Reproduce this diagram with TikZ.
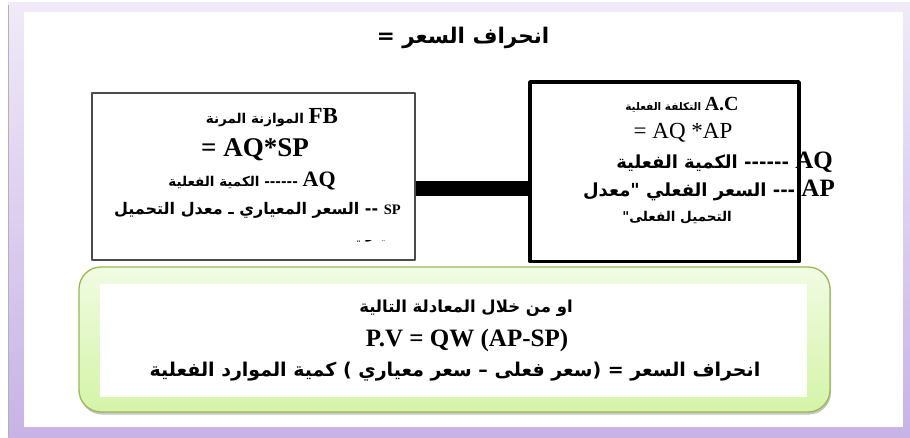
\documentclass[tikz,border=0pt]{standalone}
\usepackage{fontspec}
\setmainfont{Liberation Serif}
\newfontfamily\arabicfont[Script=Arabic]{DejaVu Sans}
\TeXXeTstate=1
\usetikzlibrary{shadows}
\definecolor{lavtop}{HTML}{F0EAF8}
\definecolor{lavbot}{HTML}{C7B3E5}
\definecolor{grntop}{HTML}{F1FBE3}
\definecolor{grnbot}{HTML}{D4F4A8}
\definecolor{grnline}{HTML}{98B954}
\newcommand\lat[2]{{\rmfamily\bfseries\fontsize{#1}{#1}\selectfont #2}}
\newcommand\latr[2]{{\rmfamily\fontsize{#1}{#1}\selectfont #2}}
\tikzset{
    artxt/.style={
        font=\arabicfont\bfseries\fontsize{#1}{#1}\selectfont,
        inner sep=0pt
    },
    lbox/.style={
        draw=black!70, line width=1.5pt, fill=white
    },
    rbox/.style={
        draw=black, line width=3.5pt, fill=white
    },
    bar/.style={
        line width=15pt, black
    }
}

\begin{document}
\begin{tikzpicture}[x=1pt,y=-1pt,line join=round]

    \useasboundingbox (0,0) rectangle (910,437);

% --- frame ---
    \fill[top color=lavtop,bottom color=lavbot] (8,2) rectangle (910,437);
    \draw[black!30,line width=0.8pt] (8,5) -- (8,437);
    \fill[white] (24,12) rectangle (903,427);

% title
    \node[artxt=21.5] (title) at (463,38) {\beginR انحراف السعر =\endR};

% --- the two boxes ---
    \node[lbox, minimum width=323pt, minimum height=167pt] (fb) at (253.5,176.5) {};
    \node[rbox, minimum width=269pt, minimum height=179.5pt] (ac) at (664.5,171.75) {};

% connector bar
    \coordinate (bary) at (0,188.5);
    \draw[bar] (fb.east |- bary) -- (ac.west |- bary);

% text of the left box
    \node[artxt=13.5] (fb1) at (272,118) {\beginR\beginL\lat{23}{FB}\endL{} الموازنة المرنة\endR};
    \node[inner sep=0pt] (fb2) at (255,150) {\lat{27}{= AQ*SP}};
    \node[artxt=13.5] (fb3) at (252,181) {\beginR\beginL\lat{22}{AQ}\endL{} ------ الكمية الفعلية\endR};
    \node[artxt=16, anchor=east] (fb4) at (401,210) {\beginR\beginL\lat{14.5}{SP}\endL{} -- السعر المعياري ـ معدل التحميل\endR};
    \begin{scope}
        \clip (95,240) rectangle (412,257);
        \node[artxt=15, anchor=base] (fb5) at (384,238) {\beginR المعياري\endR};
    \end{scope}

% text of the right box
    \node[artxt=10.5] (ac1) at (682,105) {\beginR\beginL\latr{20}{A.C}\endL{} التكلفة الفعلية\endR};
    \node[inner sep=0pt] (ac2) at (683,133) {\latr{23}{= AQ *AP}};
    \node[artxt=18, anchor=east] (ac3) at (833,162) {\beginR\beginL\lat{25}{AQ}\endL{} ------ الكمية الفعلية\endR};
    \node[artxt=18, anchor=east] (ac4) at (835,190) {\beginR\beginL\lat{25}{AP}\endL{} --- السعر الفعلي "معدل\endR};
    \node[artxt=13.5] (ac5) at (677,218) {\beginR التحميل الفعلى"\endR};

% --- green box with the equation ---
    \fill[white] (79,267) rectangle (830,412);
    \path[rounded corners=22pt, top color=grntop, bottom color=grnbot, draw=grnline, line width=1.3pt,
          drop shadow={shadow xshift=1pt, shadow yshift=-2.5pt, fill=black!45}]
        (79,267) rectangle (830,412);
    \fill[white] (100,284) rectangle (807,397);

    \node[artxt=16.5] (eq1) at (466,308) {\beginR او من خلال المعادلة التالية\endR};
    \node[inner sep=0pt] (eq2) at (467,340) {\lat{25}{P.V = QW (AP-SP)}};
    \node[artxt=19] (eq3) at (455,372) {\beginR انحراف السعر = (سعر فعلى – سعر معياري ) كمية الموارد الفعلية\endR};

\end{tikzpicture}
\end{document}
